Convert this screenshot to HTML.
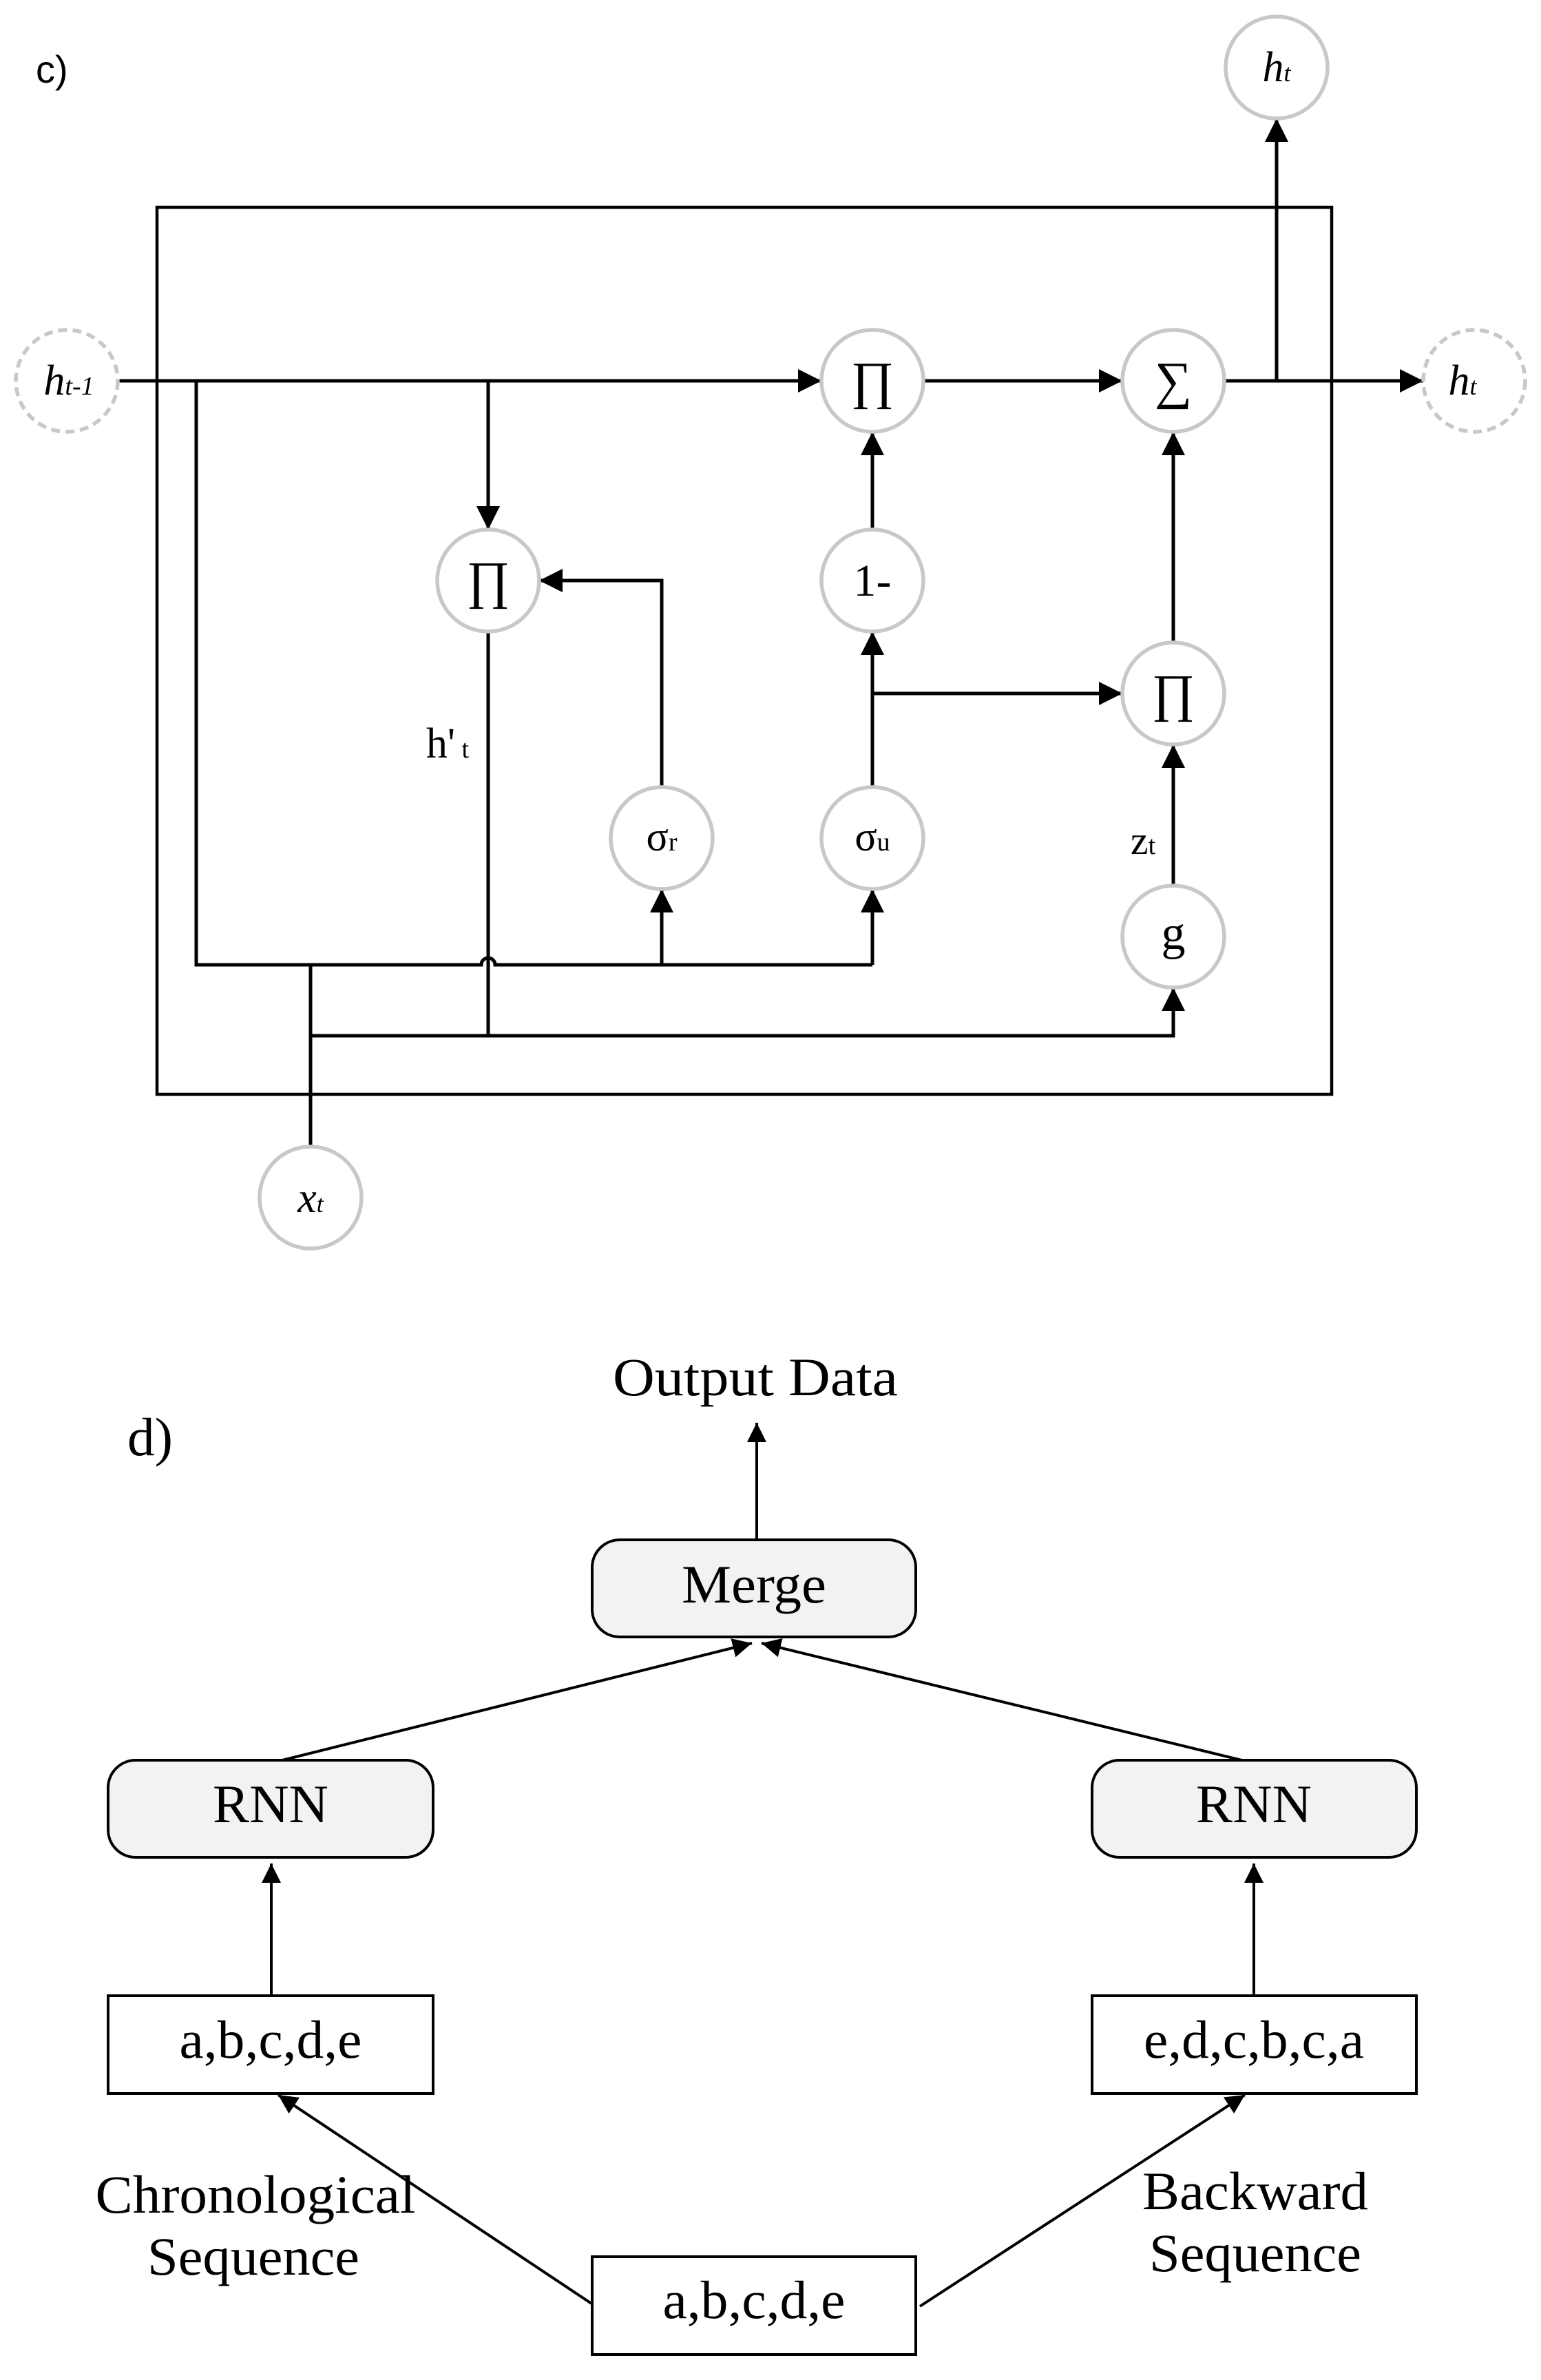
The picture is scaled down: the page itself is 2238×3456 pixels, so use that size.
<!DOCTYPE html>
<html><head><meta charset="utf-8"><style>html,body{margin:0;padding:0;background:#fff}svg{display:block}</style></head>
<body>
<svg width="2238" height="3456" viewBox="0 0 2238 3456" xmlns="http://www.w3.org/2000/svg">
<defs>
<marker id="b" viewBox="0 0 10 10" refX="10" refY="5" markerWidth="34" markerHeight="34" markerUnits="userSpaceOnUse" orient="auto"><path d="M0,0L10,5L0,10z" fill="#000"/></marker>
<marker id="c" viewBox="0 0 10 10" refX="10" refY="5" markerWidth="28" markerHeight="28" markerUnits="userSpaceOnUse" orient="auto"><path d="M0,0L10,5L0,10z" fill="#000"/></marker>
</defs>
<rect width="2238" height="3456" fill="#fff"/>
<text x="52" y="120" font-family="Liberation Sans, sans-serif" font-size="56">c)</text>
<rect x="228" y="301" width="1706" height="1288" fill="none" stroke="#000" stroke-width="4.5"/>
<g fill="none" stroke="#000" stroke-width="5">
<path d="M171,553H1193" marker-end="url(#b)"/>
<path d="M1341,553H1630" marker-end="url(#b)"/>
<path d="M1778,553H2067" marker-end="url(#b)"/>
<path d="M1854,553V172" marker-end="url(#b)"/>
<path d="M285,553V1401H699a10,10 0 0 1 20,0H1267"/>
<path d="M961,1401V1291" marker-end="url(#b)"/>
<path d="M1267,1401V1291" marker-end="url(#b)"/>
<path d="M709,553V769" marker-end="url(#b)"/>
<path d="M709,917V1504"/>
<path d="M451,1401V1665"/>
<path d="M451,1504H1704V1434" marker-end="url(#b)"/>
<path d="M961,1143V843H783" marker-end="url(#b)"/>
<path d="M1267,1143V917" marker-end="url(#b)"/>
<path d="M1267,769V627" marker-end="url(#b)"/>
<path d="M1267,1007H1630" marker-end="url(#b)"/>
<path d="M1704,1286V1081" marker-end="url(#b)"/>
<path d="M1704,933V627" marker-end="url(#b)"/>
</g>
<g fill="#fff" stroke="#c8c8c8" stroke-width="5.5">
<circle cx="1854" cy="98" r="74"/>
<circle cx="1267" cy="553" r="74"/>
<circle cx="1704" cy="553" r="74"/>
<circle cx="709" cy="843" r="74"/>
<circle cx="1267" cy="843" r="74"/>
<circle cx="1704" cy="1007" r="74"/>
<circle cx="961" cy="1217" r="74"/>
<circle cx="1267" cy="1217" r="74"/>
<circle cx="1704" cy="1360" r="74"/>
<circle cx="451" cy="1739" r="74"/>
<circle cx="97" cy="553" r="74" stroke-dasharray="13,8"/>
<circle cx="2141" cy="553" r="74" stroke-dasharray="13,8"/>
</g>
<g font-family="Liberation Serif, serif" text-anchor="middle">
<text x="1854" y="118" font-size="62" font-style="italic">h<tspan font-size="36">t</tspan></text>
<text x="100" y="573" font-size="62" font-style="italic">h<tspan font-size="38">t-1</tspan></text>
<text x="2124" y="573" font-size="62" font-style="italic">h<tspan font-size="36">t</tspan></text>
<text x="451" y="1760" font-size="62" font-style="italic">x<tspan font-size="36">t</tspan></text>
<text x="1267" y="578" font-size="76">∏</text>
<text x="709" y="868" font-size="76">∏</text>
<text x="1704" y="1032" font-size="76">∏</text>
<text x="1704" y="578" font-size="76">∑</text>
<text x="1267" y="865" font-size="66">1-</text>
<text x="961" y="1235" font-size="60">σ<tspan font-size="38">r</tspan></text>
<text x="1267" y="1235" font-size="60">σ<tspan font-size="38">u</tspan></text>
<text x="1704" y="1378" font-size="70">g</text>
<text x="650" y="1100" font-size="62">h'<tspan font-size="38"> t</tspan></text>
<text x="1660" y="1240" font-size="58">z<tspan font-size="38">t</tspan></text>
</g>
<g fill="none" stroke="#000" stroke-width="4">
<path d="M1099,2240V2066" marker-end="url(#c)"/>
<path d="M394,2560L1092,2386" marker-end="url(#c)"/>
<path d="M1820,2560L1106,2386" marker-end="url(#c)"/>
<path d="M394,2896V2706" marker-end="url(#c)"/>
<path d="M1821,2896V2706" marker-end="url(#c)"/>
<path d="M865,3349L404,3042" marker-end="url(#c)"/>
<path d="M1336,3349L1808,3042" marker-end="url(#c)"/>
</g>
<g stroke="#000" stroke-width="4">
<rect x="860" y="2236" width="470" height="141" rx="40" fill="#f2f2f2"/>
<rect x="157" y="2556" width="472" height="141" rx="40" fill="#f2f2f2"/>
<rect x="1586" y="2556" width="471" height="141" rx="40" fill="#f2f2f2"/>
<rect x="157" y="2898" width="472" height="142" fill="#fff"/>
<rect x="1586" y="2898" width="471" height="142" fill="#fff"/>
<rect x="860" y="3277" width="470" height="142" fill="#fff"/>
</g>
<g font-family="Liberation Serif, serif" font-size="78" text-anchor="middle">
<text x="1097" y="2026" textLength="414" lengthAdjust="spacingAndGlyphs">Output Data</text>
<text x="218" y="2113" textLength="66" lengthAdjust="spacingAndGlyphs">d)</text>
<text x="1095" y="2327" textLength="210" lengthAdjust="spacingAndGlyphs">Merge</text>
<text x="393" y="2646" textLength="168" lengthAdjust="spacingAndGlyphs">RNN</text>
<text x="1821" y="2646" textLength="168" lengthAdjust="spacingAndGlyphs">RNN</text>
<text x="393" y="2988" textLength="265" lengthAdjust="spacingAndGlyphs">a,b,c,d,e</text>
<text x="1821" y="2988" textLength="320" lengthAdjust="spacingAndGlyphs">e,d,c,b,c,a</text>
<text x="1095" y="3366" textLength="265" lengthAdjust="spacingAndGlyphs">a,b,c,d,e</text>
<text x="371" y="3213" textLength="465" lengthAdjust="spacingAndGlyphs">Chronological</text>
<text x="368" y="3303" textLength="308" lengthAdjust="spacingAndGlyphs">Sequence</text>
<text x="1823" y="3208" textLength="328" lengthAdjust="spacingAndGlyphs">Backward</text>
<text x="1823" y="3298" textLength="308" lengthAdjust="spacingAndGlyphs">Sequence</text>
</g>
</svg>
</body></html>
